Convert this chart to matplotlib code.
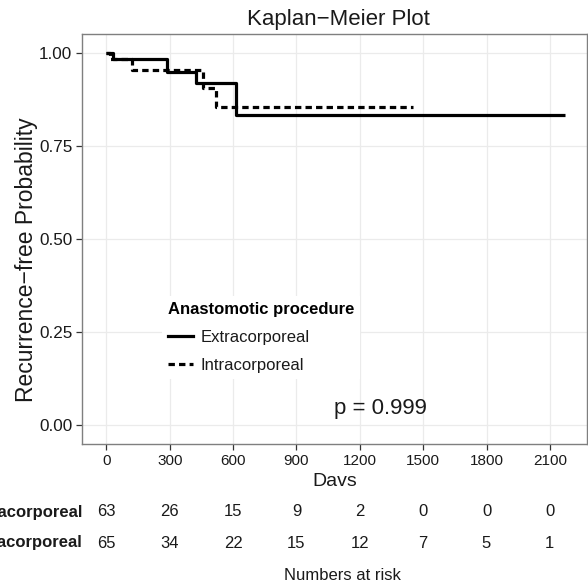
import matplotlib
matplotlib.use("Agg")
import matplotlib.pyplot as plt
from matplotlib.lines import Line2D
import matplotlib.transforms as mtransforms

plt.rcParams['font.family'] = ['Liberation Sans', 'DejaVu Sans']

# ---- data ----
ext_times = [0, 30, 286, 424, 614, 2172]
ext_surv = [1.0, 0.984, 0.951, 0.919, 0.834, 0.834]
int_times = [0, 15, 123, 456, 517, 1452]
int_surv = [1.0, 0.985, 0.954, 0.907, 0.857, 0.857]

groups = ["Extracorporeal", "Intracorporeal"]
risk_times = [0, 300, 600, 900, 1200, 1500, 1800, 2100]
risk_ext = [63, 26, 15, 9, 2, 0, 0, 0]
risk_int = [65, 34, 22, 15, 12, 7, 5, 1]
yticks = [0.00, 0.25, 0.50, 0.75, 1.00]
ytick_labels = ["0.00", "0.25", "0.50", "0.75", "1.00"]
p_text = "p = 0.999"

W, H = 588, 583
fig = plt.figure(figsize=(W / 100, H / 100), dpi=100)
ax = fig.add_axes([82 / W, 1 - 444 / H, (587 - 82) / W, (444 - 34) / H])

dash = (2.0, 1.3)
ax.step(ext_times, ext_surv, where='post', color='black', lw=2.3, solid_capstyle='butt', zorder=3)
ax.step(int_times, int_surv, where='post', color='black', lw=2.3, dashes=dash, zorder=3)

ax.set_xlim(-116, 2276)
ax.set_ylim(-0.05, 1.052)
ax.set_xticks(risk_times)
ax.set_xticklabels([str(t) for t in risk_times])
ax.set_yticks(yticks)
ax.set_yticklabels(ytick_labels)
ax.grid(True, color='#EBEBEB', lw=0.9, zorder=0)
ax.set_axisbelow(True)
for s in ax.spines.values():
    s.set_color('#7F7F7F')
    s.set_linewidth(1.0)
ax.tick_params(axis='both', colors='#333333', labelcolor='#1a1a1a',
               length=4, width=0.9, pad=3)
ax.tick_params(axis='x', labelsize=11)
ax.tick_params(axis='y', labelsize=12.3)

ax.text(1296, 0.045, p_text, fontsize=16, ha='center', va='center', color='#1a1a1a')

handles = [Line2D([], [], color='black', lw=2.3),
           Line2D([], [], color='black', lw=2.3, dashes=dash)]
leg = ax.legend(handles, groups, title='Anastomotic procedure', loc='upper left',
                bbox_to_anchor=((162 - 82) / 505, (444 - 296) / 410),
                frameon=True, fancybox=False, edgecolor='none', facecolor='white',
                framealpha=1, fontsize=12, title_fontproperties={'weight': 'bold', 'size': 12},
                handlelength=1.5, handletextpad=0.45, labelspacing=0.78, borderpad=0.35,
                borderaxespad=0)
leg._legend_box.align = 'left'
for t in leg.get_texts():
    t.set_color('#1a1a1a')

# titles
fig.text(338 / W, 1 - 20 / H, 'Kaplan\u2212Meier Plot', fontsize=16, ha='center', va='center', color='#1a1a1a')
fig.text(335 / W, 1 - 481 / H, 'Davs', fontsize=14, ha='center', va='center', color='#1a1a1a')
fig.text(27 / W, 1 - 260 / H, 'Recurrence\u2212free Probability', fontsize=16.5, rotation=90,
         ha='center', va='center', color='#1a1a1a')

# risk table
trans = mtransforms.blended_transform_factory(ax.transData, fig.transFigure)
for row_y, name, vals in [(512, groups[0], risk_ext), (543, groups[1], risk_int)]:
    fy = 1 - row_y / H
    fig.text(83 / W, fy, name, fontsize=12, fontweight='bold', ha='right', va='center', color='#1a1a1a')
    for t, v in zip(risk_times, vals):
        ax.text(t, fy, str(v), transform=trans, fontsize=12, ha='center', va='center',
                color='#1a1a1a', clip_on=False)
fig.text(342 / W, 1 - 575 / H, 'Numbers at risk', fontsize=12, ha='center', va='center', color='#1a1a1a')

fig.savefig('out.png', dpi=100)
